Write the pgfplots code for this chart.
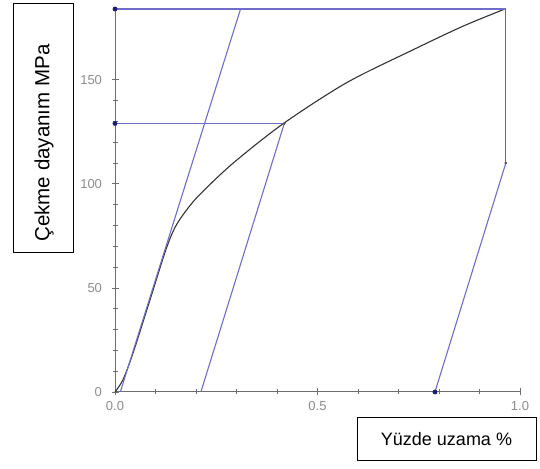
\documentclass[border=0pt]{standalone}
\usepackage{pgfplots}
\pgfplotsset{compat=1.18}
\usepackage{fontspec}
\setmainfont{Liberation Sans}
\definecolor{lineblue}{RGB}{110,110,200}
\definecolor{dotblue}{RGB}{30,30,110}
\definecolor{axgray}{RGB}{110,110,110}
\begin{document}
\begin{tikzpicture}[x=1pt,y=1pt]
\useasboundingbox (0,0) rectangle (540,468);
\begin{axis}[
    at={(115pt,76pt)}, anchor=south west,
    scale only axis,
    width=405pt, height=383pt,
    xmin=0, xmax=1.0, ymin=0, ymax=184,
    axis lines=left,
    axis line style={-, axgray, line width=1pt},
    xtick={0,0.5,1}, ytick={0,50,100,150},
    xticklabels={0.0,0.5,1.0},
    minor x tick num=4, minor y tick num=4,
    tick align=center,
    major tick length=7pt, minor tick length=5pt,
    tick style={axgray, line width=0.7pt},
    ticklabel style={font=\fontsize{13}{15}\selectfont, text=gray!90},
    /pgf/number format/assume math mode=true,
    xticklabel style={yshift=-2pt},
    yticklabel style={xshift=-6pt},
    clip=false,
]
% stress-strain curve
\addplot[black!80, line width=1.1pt, smooth, tension=0.5] coordinates {
    (0,0) (0.02,6) (0.045,19) (0.086,44) (0.125,68) (0.148,79)
    (0.175,87) (0.21,95) (0.292,110) (0.416,129) (0.572,148.6)
    (0.737,164.5) (0.86,175.8) (0.963,184)
};
% unloading drop
\addplot[axgray, line width=1.1pt] coordinates {(0.965,184) (0.965,110)};
% elastic line
\addplot[lineblue, line width=1.1pt] coordinates {(0.013,0) (0.31,184)};
% offset line through 129 MPa point
\addplot[lineblue, line width=1.1pt] coordinates {(0.212,0) (0.418,129)};
% horizontal guides
\addplot[lineblue, line width=1.1pt] coordinates {(0,129) (0.418,129)};
\addplot[lineblue, line width=1.1pt] coordinates {(0,184) (0.965,184)};
% recovery line
\addplot[lineblue, line width=1.1pt] coordinates {(0.79,0) (0.965,110)};
% markers
\addplot[only marks, mark=*, mark size=2.2pt, dotblue] coordinates {(0,184) (0,129) (0.79,0)};
\addplot[only marks, mark=*, mark size=1.1pt, black!70] coordinates {(0.418,129) (0.965,110)};
\end{axis}
\node[draw, line width=1pt, minimum width=60pt, minimum height=249pt, inner sep=0pt]
    at (43,339.5) {};
\node[rotate=90, font=\fontsize{20.5}{24}\selectfont] at (44,325) {Çekme dayanım MPa};
\node[draw, line width=1pt, minimum width=179pt, minimum height=42pt, inner sep=0pt,
    font=\fontsize{18}{21}\selectfont] at (446.5,29) {Yüzde uzama \%};
\end{tikzpicture}
\end{document}
